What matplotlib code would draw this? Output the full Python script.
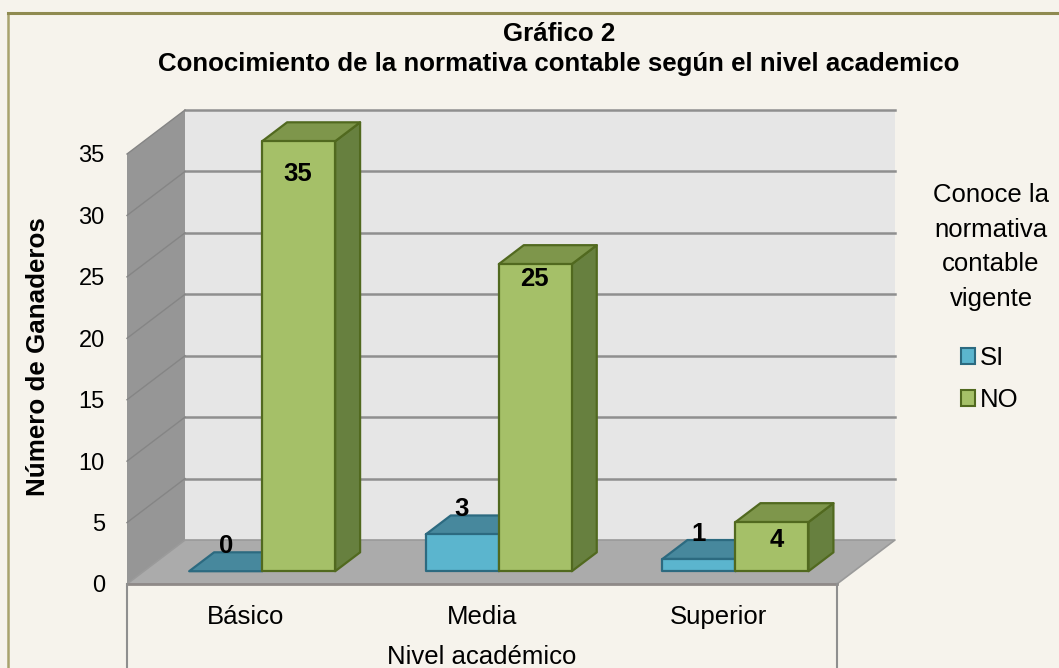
import matplotlib
matplotlib.use('Agg')
import matplotlib.pyplot as plt
from matplotlib.lines import Line2D
from matplotlib.patches import Polygon, Patch

categories = ['Básico', 'Media', 'Superior']
si_values = [0, 3, 1]
no_values = [35, 25, 4]
y_ticks = [0, 5, 10, 15, 20, 25, 30, 35]

# colours: front, top, side, edge
SI_COLORS = ('#5BB5CE', '#47889D', '#3E7A8E', '#2C6A80')
NO_COLORS = ('#A5C068', '#7E964B', '#67803F', '#51691F')
BG = '#F6F3EC'

plt.rcParams['font.family'] = ['Liberation Sans', 'DejaVu Sans']

fig = plt.figure(figsize=(10.59, 6.68), dpi=100, facecolor=BG)

# the axes is the front plane of the 3d box
ax = fig.add_axes([127 / 1059, (668 - 584) / 668, 710 / 1059, 430 / 668])
ax.set_xlim(0, 3)
ax.set_ylim(0, 35)
ax.patch.set_visible(False)
for s in ax.spines.values():
    s.set_visible(False)

# depth of the box in data units
DX = 58 / 710 * 3
DY = 44 / 430 * 35
BAR_W = 73 / 710 * 3
D0, D1 = 0.29, 0.72


def poly(pts, color, edge='none', lw=0, z=1):
    ax.add_patch(Polygon(pts, closed=True, facecolor=color, edgecolor=edge, linewidth=lw,
                         zorder=z, clip_on=False, joinstyle='round'))


def draw_bar(x0, value, colors, z):
    x1 = x0 + BAR_W
    ox, oy = DX * D0, DY * D0
    dx, dy = DX * (D1 - D0), DY * (D1 - D0)
    front, top, side, edge = colors
    poly([(x1 + ox, oy), (x1 + ox + dx, oy + dy), (x1 + ox + dx, value + oy + dy), (x1 + ox, value + oy)],
         side, edge, 1.6, z)
    poly([(x0 + ox, value + oy), (x1 + ox, value + oy), (x1 + ox + dx, value + oy + dy), (x0 + ox + dx, value + oy + dy)],
         top, edge, 1.6, z)
    if value > 0:
        poly([(x0 + ox, oy), (x1 + ox, oy), (x1 + ox, value + oy), (x0 + ox, value + oy)],
             front, edge, 1.6, z + 0.1)


# walls and floor
poly([(DX, 0 + DY), (3 + DX, 0 + DY), (3 + DX, 35 + DY), (DX, 35 + DY)], '#E6E6E6', z=0.5)
poly([(0, 0), (DX, DY), (DX, 35 + DY), (0, 35)], '#969696', z=0.6)
poly([(0, 0), (3, 0), (3 + DX, DY), (DX, DY)], '#ABABAB', '#9A9A9A', 1.2, z=0.7)

for t in y_ticks:
    if t > 0:
        ax.plot([DX, 3 + DX], [t + DY, t + DY], color='#8F8F8F', lw=1.8, zorder=0.8, clip_on=False)
        ax.plot([0, DX], [t, t + DY], color='#858585', lw=1.0, zorder=0.8, clip_on=False)

# frame lines under the floor
ax.plot([0, 3], [0, 0], color='#8F8A88', lw=2, zorder=0.9, clip_on=False)
ax.plot([0, 0], [0, -84 / 430 * 35], color='#8F8F8F', lw=1.5, zorder=0.9, clip_on=False)
ax.plot([3, 3], [0, -84 / 430 * 35], color='#8F8F8F', lw=1.5, zorder=0.9, clip_on=False)

# bars, back to front and left to right
for i in range(len(categories)):
    center = i + 0.5
    draw_bar(center - BAR_W, si_values[i], SI_COLORS, 2 + i)
    draw_bar(center, no_values[i], NO_COLORS, 2.5 + i)

# hand placed labels, offset in px from the bar top front centre
si_offsets = [(0, 25), (-1, 25), (0, 25)]
no_offsets = [(-1, -33), (-1, -15), (5, -18)]
for i in range(len(categories)):
    center = i + 0.5
    base = DY * D0
    ax.annotate(str(si_values[i]), (center - BAR_W / 2 + DX * D0, si_values[i] + base), xytext=si_offsets[i],
                textcoords='offset pixels', ha='center', va='center', fontsize=18.5, fontweight='bold',
                color='black', zorder=10, annotation_clip=False)
    ax.annotate(str(no_values[i]), (center + BAR_W / 2 + DX * D0, no_values[i] + base), xytext=no_offsets[i],
                textcoords='offset pixels', ha='center', va='center', fontsize=18.5, fontweight='bold',
                color='black', zorder=10, annotation_clip=False)

ax.set_yticks(y_ticks)
ax.tick_params(axis='y', length=0, pad=16, labelsize=17)
ax.set_xticks([0.5, 1.5, 2.5])
ax.set_xticklabels(categories)
ax.tick_params(axis='x', length=0, pad=15, labelsize=18.5)
ax.set_xlabel('Nivel académico', fontsize=18.5, labelpad=12)
ax.set_ylabel('Número de Ganaderos', fontsize=18.7, fontweight='bold', va='center')
ax.yaxis.set_label_coords(-89 / 710, 0.53)

fig.text(0.528, 0.9495, 'Gráfico 2', ha='center', va='center', fontsize=18.6, fontweight='bold')
fig.text(0.528, 0.9045, 'Conocimiento de la normativa contable según el nivel academico',
         ha='center', va='center', fontsize=18.6, fontweight='bold')

fig.text(991 / 1059, 1 - 247 / 668, 'Conoce la\nnormativa\ncontable\nvigente', ha='center', va='center',
         multialignment='center', fontsize=18.5, linespacing=1.56)

handles = [Patch(facecolor=SI_COLORS[0], edgecolor=SI_COLORS[3], linewidth=1.5, label='SI'),
           Patch(facecolor=NO_COLORS[0], edgecolor=NO_COLORS[3], linewidth=1.5, label='NO')]
fig.legend(handles=handles, frameon=False, loc='center', bbox_to_anchor=(990 / 1059, 1 - 379 / 668),
           fontsize=18.5, handlelength=0.55, handleheight=0.55, handletextpad=0.2, labelspacing=0.7, borderpad=0)

# outer frame of the chart, only top and left are visible
fig.add_artist(Line2D([8 / 1059, 8 / 1059], [0, 1 - 13 / 668], transform=fig.transFigure, color='#A8A36E', lw=1.8))
fig.add_artist(Line2D([8 / 1059, 1], [1 - 13 / 668, 1 - 13 / 668], transform=fig.transFigure, color='#8F8A50', lw=2.2))

fig.savefig('out.png', dpi=100, facecolor=BG)
